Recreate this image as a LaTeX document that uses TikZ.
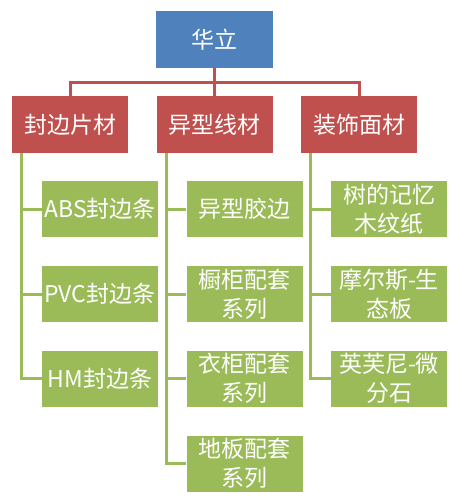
\documentclass[tikz,border=0pt]{standalone}
\usepackage{fontspec}
\setmainfont{Noto Sans CJK SC}
\usepackage{xcolor}
\definecolor{topblue}{HTML}{4F81BD}
\definecolor{catred}{HTML}{C0504D}
\definecolor{itemgreen}{HTML}{9BBB59}

\begin{document}
\begin{tikzpicture}[x=1pt, y=-1pt, font=\fontsize{23}{29}\selectfont,
  box/.style={text=white, inner sep=0pt, align=center, minimum width=116pt},
  topbox/.style={box, fill=topblue, minimum width=117pt, minimum height=57pt},
  catbox/.style={box, fill=catred, minimum height=57pt},
  itembox/.style={box, fill=itemgreen, minimum height=56pt},
  catline/.style={catred, line width=3pt},
  itemline/.style={itemgreen, line width=3pt}]
  \useasboundingbox (0,0) rectangle (463,500);
  % top
  \node[topbox] (hl) at (214.5,39.5) {华立};
  % categories
  \node[catbox] (fb) at (70,124.5) {封边片材};
  \node[catbox] (yx) at (214.5,124.5) {异型线材};
  \node[catbox] (zs) at (359,124.5) {装饰面材};
  % items
  \node[itembox] (abs) at (100,209) {ABS封边条};
  \node[itembox] (pvc) at (100,294) {PVC封边条};
  \node[itembox] (hm)  at (100,378.5) {HM封边条};
  \node[itembox] (jb)  at (244.5,209) {异型胶边};
  \node[itembox] (cg)  at (244.5,294) {橱柜配套\\系列};
  \node[itembox] (yg)  at (244.5,378.5) {衣柜配套\\系列};
  \node[itembox] (db)  at (244.5,463.5) {地板配套\\系列};
  \node[itembox] (sj)  at (389,209) {树的记忆\\木纹纸};
  \node[itembox] (me)  at (389,294) {摩尔斯-生\\态板};
  \node[itembox] (yf)  at (389,378.5) {英芙尼-微\\分石};
  % connectors
  \foreach \c in {fb,yx,zs}
    \draw[catline] (hl.south) -- ++(0,14) -| (\c.north);
  \foreach \c in {abs,pvc,hm}
    \draw[itemline] ([xshift=10pt]fb.south west) |- (\c.west);
  \foreach \c in {jb,cg,yg,db}
    \draw[itemline] ([xshift=10pt]yx.south west) |- (\c.west);
  \foreach \c in {sj,me,yf}
    \draw[itemline] ([xshift=10pt]zs.south west) |- (\c.west);
\end{tikzpicture}
\end{document}
